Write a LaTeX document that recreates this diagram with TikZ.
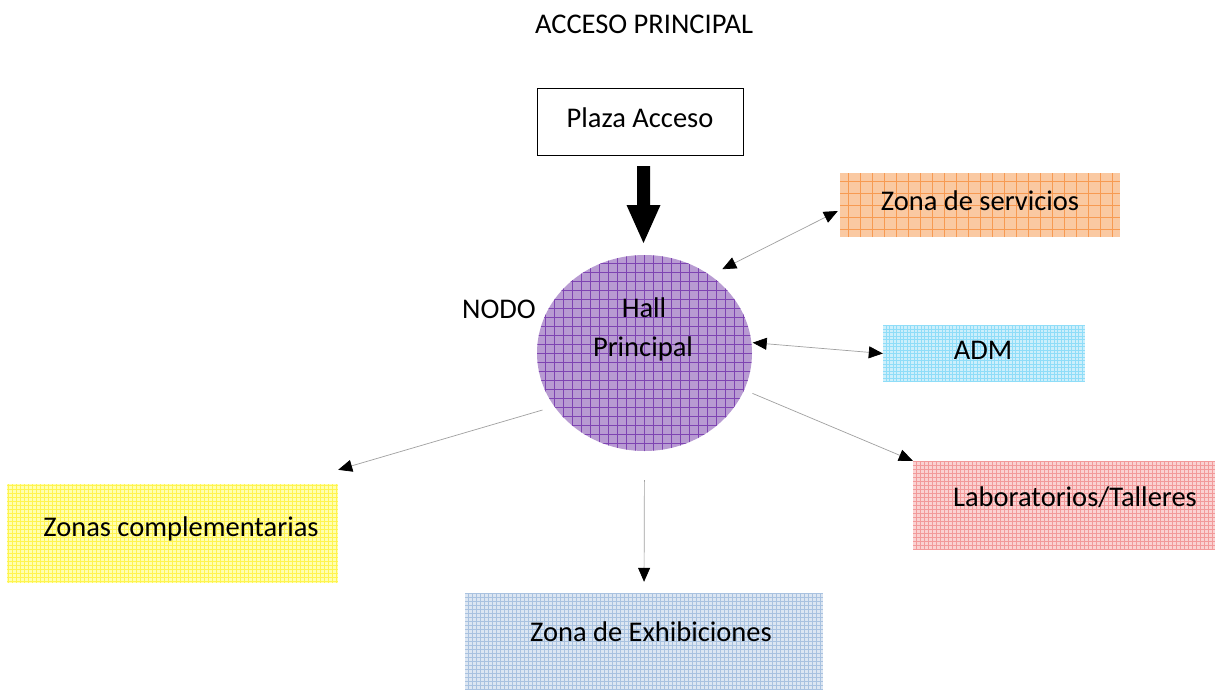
\documentclass[tikz,border=0pt]{standalone}
\usepackage{fontspec}
\setmainfont{Carlito}
\usetikzlibrary{arrows.meta,calc,shapes.geometric}
\definecolor{hallfill}{HTML}{B89BD2}
\definecolor{hallgrid}{HTML}{7E44B2}
\definecolor{servfill}{HTML}{FAC9A2}
\definecolor{servgrid}{HTML}{F79A52}
\definecolor{admfill}{HTML}{CDEFFB}
\definecolor{admgrid}{HTML}{8FDDF8}
\definecolor{labfill}{HTML}{FAD2D2}
\definecolor{labgrid}{HTML}{F29A9A}
\definecolor{compfill}{HTML}{FFFFB0}
\definecolor{compgrid}{HTML}{FFF450}
\definecolor{exhfill}{HTML}{DCE6F2}
\definecolor{exhgrid}{HTML}{A9C2E0}
\definecolor{linegray}{HTML}{A0A0A0}
\tikzset{
  txt/.style={font=\fontsize{28.5}{34}\selectfont, inner sep=0pt, text=black},
  gridbox/.style n args={3}{rectangle, draw=none, fill=#1, inner sep=0pt,
    path picture={\draw[#2, line width=0.6pt, step=#3] (path picture bounding box.south west) grid (path picture bounding box.north east);}},
  conn/.style={draw=linegray, line width=0.7pt},
  tip/.tip={Triangle[length=14pt,width=12pt,color=black]},
}
\begin{document}
\begin{tikzpicture}[x=1pt,y=-1pt]
\useasboundingbox[fill=white] (0,0) rectangle (1218,689);
% title
\node[txt] (title) at (644,24) {ACCESO PRINCIPAL};
% plaza
\node[rectangle, draw=black, line width=0.8pt, fill=white, minimum width=206pt, minimum height=67pt, inner sep=0pt] (plaza) at (640,121.5) {};
\node[txt] (plazat) at (640,118) {Plaza Acceso};
% thick arrow
\coordinate (ta) at (643.5,166);
\fill[black] ($(ta)+(-6.5,0)$) -- ($(ta)+(6.5,0)$) -- ($(ta)+(6.5,39)$) -- ($(ta)+(17,39)$) -- ($(ta)+(0,77)$) -- ($(ta)+(-17,39)$) -- ($(ta)+(-6.5,39)$) -- cycle;
% hall
\node[ellipse, draw=none, minimum width=215pt, minimum height=196pt, inner sep=0pt, fill=hallfill,
  path picture={\draw[hallgrid, line width=0.7pt, step=9pt] (path picture bounding box.south west) grid (path picture bounding box.north east);}] (hall) at (644.5,353) {};
\node[txt] (hallt1) at (644,308) {Hall};
\node[txt] (hallt2) at (643,349) {Principal};
\node[txt] (nodo) at (499,309) {NODO};
% boxes
\node[gridbox={servfill}{servgrid}{12pt}, minimum width=280pt, minimum height=64pt] (serv) at (980,205) {};
\node[txt] (servt) at (980,201) {Zona de servicios};
\node[gridbox={admfill}{admgrid}{3.5pt}, minimum width=202pt, minimum height=57pt] (adm) at (984,353.5) {};
\node[txt] (admt) at (983,350) {ADM};
\node[gridbox={labfill}{labgrid}{4pt}, minimum width=302pt, minimum height=88pt] (lab) at (1064,505) {};
\node[txt] (labt) at (1075,497) {Laboratorios/Talleres};
\node[gridbox={compfill}{compgrid}{4pt}, minimum width=331pt, minimum height=99pt] (comp) at (172.5,533.5) {};
\node[txt] (compt) at (181,529) {Zonas complementarias};
\node[gridbox={exhfill}{exhgrid}{4pt}, minimum width=358pt, minimum height=96pt] (exh) at (644,641) {};
\node[txt] (exht) at (651,632) {Zona de Exhibiciones};
% connectors
\draw[conn, {tip}-{tip}] ($(hall.47)+(8,-9)$) -- ($(serv.west)+(-2,6)$);
\draw[conn, {tip}-{tip}] ($(hall.5)+(1,-1)$) -- (adm.west);
\draw[conn, -{tip}] ($(hall.-20)+(8,4)$) -- (lab.north west);
\draw[conn, -{tip}] ($(hall.209.6)+(-10,6)$) -- ($(comp.north east)+(0,-14)$);
\draw[conn, -{tip}, shorten <=29pt, shorten >=11pt] (hall.south) -- (exh.north);
\end{tikzpicture}
\end{document}
